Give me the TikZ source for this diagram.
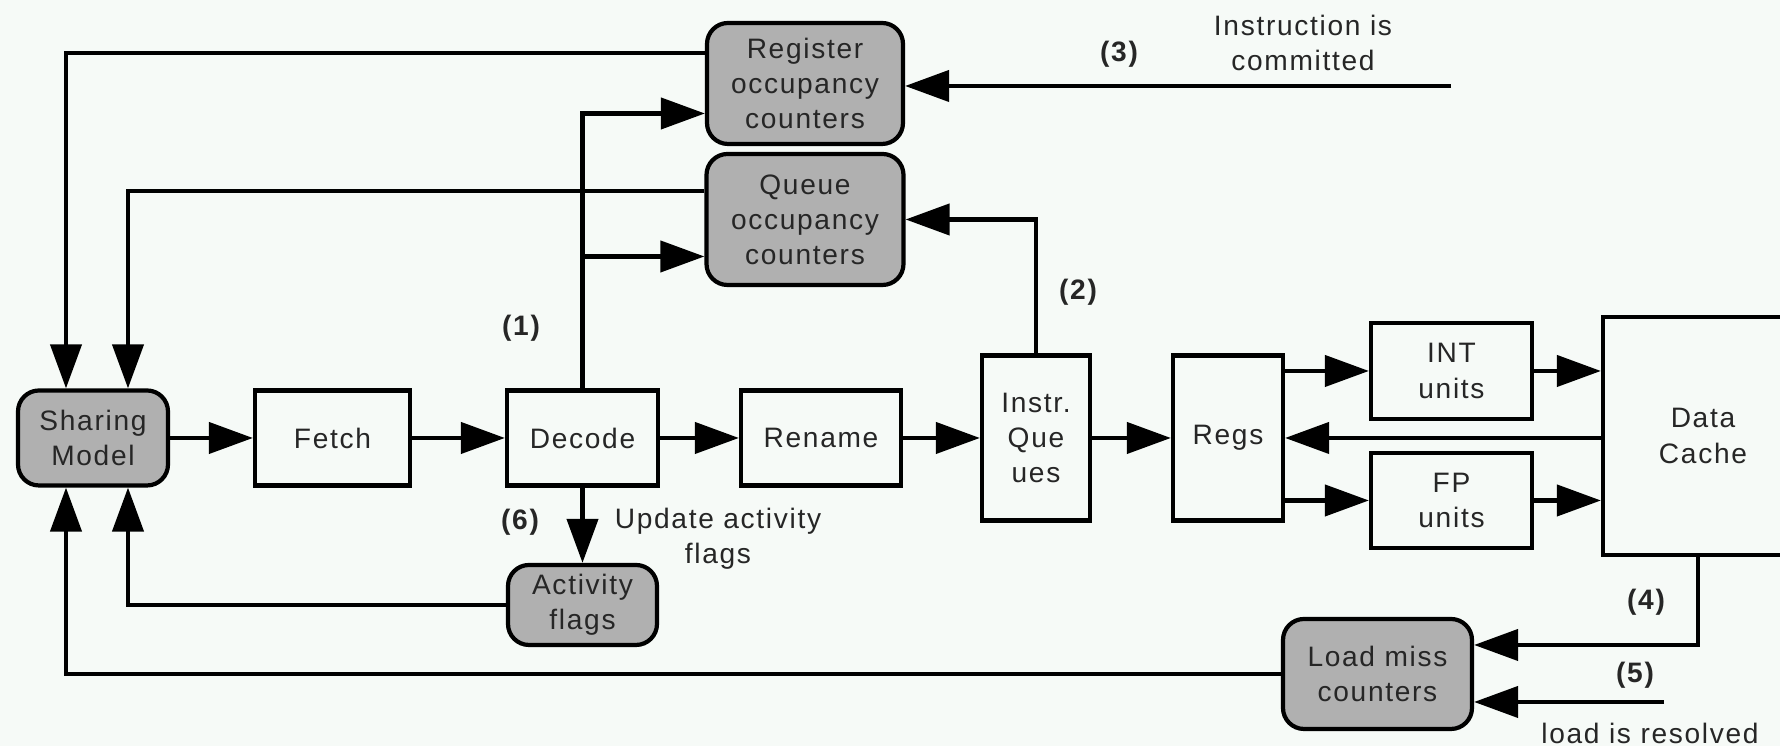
\documentclass[tikz,border=0pt]{standalone}
\usepackage{fontspec}
\setmainfont{Liberation Sans}[LetterSpace=6]
\usetikzlibrary{arrows.meta,calc}
\definecolor{bgpaper}{RGB}{246,250,247}
\definecolor{ctrgray}{RGB}{176,176,176}

\begin{document}
\begin{tikzpicture}[
    font=\fontsize{8}{10}\selectfont, text=black!85,
    line width=1.2pt,
    unit/.style={draw, fill=bgpaper, align=center, inner sep=0pt},
    ctr/.style={draw, fill=ctrgray, rounded corners=0.21cm, align=center, inner sep=0pt},
    arr/.style={-{Triangle[length=4.4mm,width=3.1mm]}},
    lbl/.style={font=\fontsize{8}{10}\selectfont\bfseries},
  ]
  \fill [bgpaper] (0,0) rectangle (17.8,7.46);
  \useasboundingbox (0,0) rectangle (17.8,7.46);

  % pipeline
  \node [ctr, minimum width=1.50cm, minimum height=0.95cm] (share) at (0.93,3.08) {Sharing\\Model};
  \node [unit, minimum width=1.55cm, minimum height=0.95cm] (fetch) at (3.325,3.08) {Fetch};
  \node [unit, minimum width=1.51cm, minimum height=0.95cm] (decode) at (5.825,3.08) {Decode};
  \node [unit, minimum width=1.60cm, minimum height=0.95cm] (rename) at (8.21,3.08) {Rename};
  \node [unit, minimum width=1.08cm, minimum height=1.65cm] (iq) at (10.36,3.08) {Instr.\\Que\\ues};
  \node [unit, minimum width=1.10cm, minimum height=1.65cm] (regs) at (12.28,3.08) {Regs};
  \node [unit, minimum width=1.61cm, minimum height=0.96cm] (int) at (14.515,3.75) {INT\\units};
  \node [unit, minimum width=1.61cm, minimum height=0.95cm] (fp) at (14.515,2.455) {FP\\units};
  \node [unit, minimum width=2.00cm, minimum height=2.38cm] (cache) at (17.03,3.10) {Data\\Cache};

  % counters
  \node [ctr, minimum width=1.96cm, minimum height=1.21cm] (regocc) at (8.05,6.625) {Register\\occupancy\\counters};
  \node [ctr, minimum width=1.97cm, minimum height=1.31cm] (queocc) at (8.05,5.265) {Queue\\occupancy\\counters};
  \node [ctr, minimum width=1.49cm, minimum height=0.80cm] (act) at (5.825,1.41) {Activity\\flags};
  \node [ctr, minimum width=1.89cm, minimum height=1.10cm] (loadmiss) at (13.775,0.72) {Load miss\\counters};

  \draw [arr] (share) -- (fetch);
  \draw [arr] (fetch) -- (decode);
  \draw [arr] (decode) -- (rename);
  \draw [arr] (rename) -- (iq);
  \draw [arr] (iq) -- (regs);
  \draw [arr] (regs.east |- int) -- (int);
  \draw [arr] (regs.east |- fp) -- (fp);
  \draw [arr] (int) -- (int -| cache.west);
  \draw [arr] (fp) -- (fp -| cache.west);
  \draw [arr] (cache.west |- regs) -- (regs);

  % updates of the counters
  \coordinate (toreg) at ([yshift=-0.3cm]regocc.west);
  \coordinate (toque) at ([yshift=-0.37cm]queocc.west);
  \draw [arr] (decode.north) |- (toreg);
  \draw [arr] (decode.north |- toque) -- (toque);
  \draw [arr] (iq.north) |- (queocc.east);
  \coordinate (commit) at (14.51,6.60);
  \draw [arr] (commit) -- (commit -| regocc.east);
  \draw [arr] (decode) -- (act);
  \draw [arr] ([xshift=-0.05cm]cache.south) |- ([yshift=0.29cm]loadmiss.east);
  \coordinate (resolved) at (16.64,0.44);
  \draw [arr] (resolved) -- (resolved -| loadmiss.east);

  % feedback to the sharing model
  \draw [arr] ([yshift=0.305cm]regocc.west) -| ([xshift=-0.27cm]share.north);
  \draw [arr] ([yshift=0.285cm]queocc.west) -| ([xshift=0.35cm]share.north);
  \draw [arr] (act.west) -| ([xshift=0.35cm]share.south);
  \draw [arr] (loadmiss.west) -| ([xshift=-0.27cm]share.south);

  % labels
  \node [lbl] (step1) at (5.21,4.18) {(1)};
  \node [lbl] (step2) at (10.78,4.54) {(2)};
  \node [lbl] (step3) at (11.19,6.92) {(3)};
  \node [lbl] (step4) at (16.46,1.44) {(4)};
  \node [lbl] (step5) at (16.35,0.71) {(5)};
  \node [lbl] (step6) at (5.20,2.24) {(6)};
  \node [align=center] (commitlbl) at (13.03,7.03) {Instruction is\\committed};
  \node [align=center] (updlbl) at (7.18,2.07) {Update activity\\flags};
  \node (reslbl) at (16.50,0.13) {load is resolved};
\end{tikzpicture}
\end{document}
